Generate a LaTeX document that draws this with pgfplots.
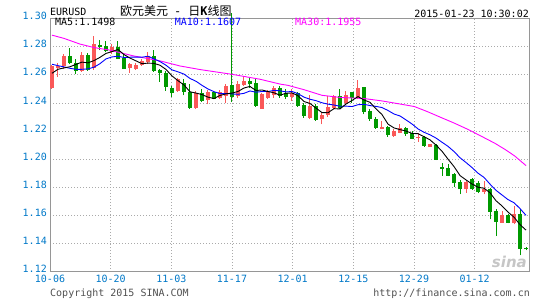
\documentclass[border=0pt]{standalone}
\usepackage{fontspec}
\setmainfont{DejaVu Sans Mono}
\newfontfamily\cjk{Noto Sans CJK SC}
\newfontfamily\sinafont{DejaVu Sans}
\usepackage{pgfplots}
\usepackage{pgfplotstable}
\pgfplotsset{compat=1.18}
\definecolor{kred}{RGB}{250,88,88}
\definecolor{kgreen}{RGB}{0,153,0}
\definecolor{axblue}{RGB}{0,120,200}
\definecolor{gridgray}{RGB}{170,170,170}
\definecolor{framegray}{RGB}{150,150,150}
\definecolor{ma30}{RGB}{255,0,255}

% red = close above open
\pgfplotstableread{
i o h l c
0 1.2507 1.2669 1.2502 1.2660
1 1.2648 1.2688 1.2585 1.2660
2 1.2660 1.2752 1.2641 1.2736
5 1.2629 1.2760 1.2621 1.2740
7 1.2652 1.2879 1.2636 1.2819
10 1.2760 1.2819 1.2748 1.2802
13 1.2652 1.2688 1.2617 1.2676
14 1.2641 1.2688 1.2636 1.2669
15 1.2669 1.2712 1.2664 1.2700
16 1.2693 1.2764 1.2676 1.2736
21 1.2486 1.2581 1.2479 1.2569
24 1.2367 1.2486 1.2360 1.2469
26 1.2422 1.2493 1.2391 1.2479
28 1.2438 1.2493 1.2426 1.2479
29 1.2450 1.2533 1.2398 1.2522
31 1.2450 1.2557 1.2438 1.2533
32 1.2527 1.2593 1.2522 1.2557
35 1.2360 1.2474 1.2360 1.2462
36 1.2438 1.2493 1.2431 1.2479
37 1.2455 1.2522 1.2438 1.2510
40 1.2446 1.2498 1.2415 1.2474
43 1.2296 1.2455 1.2285 1.2379
45 1.2285 1.2332 1.2249 1.2315
46 1.2313 1.2451 1.2303 1.2375
47 1.2368 1.2455 1.2360 1.2451
49 1.2398 1.2486 1.2384 1.2455
51 1.2439 1.2564 1.2427 1.2510
55 1.2218 1.2273 1.2213 1.2232
57 1.2166 1.2213 1.2161 1.2201
58 1.2190 1.2254 1.2185 1.2225
61 1.2153 1.2190 1.2123 1.2161
63 1.2090 1.2110 1.2088 1.2107
69 1.1786 1.1846 1.1763 1.1839
72 1.1767 1.1846 1.1751 1.1791
75 1.1549 1.1632 1.1549 1.1601
77 1.1544 1.1668 1.1537 1.1609
}\redK

% green = close below open
\pgfplotstableread{
i o h l c
3 1.2736 1.2795 1.2676 1.2688
4 1.2688 1.2712 1.2605 1.2629
6 1.2740 1.2755 1.2629 1.2636
8 1.2812 1.2850 1.2776 1.2800
9 1.2807 1.2843 1.2760 1.2771
11 1.2800 1.2843 1.2712 1.2712
12 1.2717 1.2748 1.2641 1.2641
17 1.2736 1.2776 1.2621 1.2629
18 1.2636 1.2645 1.2552 1.2612
19 1.2617 1.2629 1.2486 1.2517
20 1.2510 1.2522 1.2443 1.2469
22 1.2545 1.2569 1.2455 1.2479
23 1.2479 1.2533 1.2360 1.2367
25 1.2469 1.2498 1.2407 1.2414
27 1.2479 1.2486 1.2426 1.2431
30 1.2529 1.3041 1.2407 1.2443
33 1.2557 1.2581 1.2510 1.2533
34 1.2545 1.2581 1.2374 1.2379
38 1.2510 1.2522 1.2438 1.2450
39 1.2469 1.2498 1.2426 1.2445
41 1.2474 1.2479 1.2372 1.2379
42 1.2384 1.2403 1.2296 1.2308
44 1.2379 1.2391 1.2273 1.2280
48 1.2451 1.2498 1.2360 1.2368
50 1.2479 1.2482 1.2403 1.2439
52 1.2515 1.2517 1.2320 1.2337
53 1.2344 1.2356 1.2273 1.2285
54 1.2289 1.2301 1.2218 1.2225
56 1.2232 1.2237 1.2161 1.2171
59 1.2225 1.2232 1.2166 1.2178
60 1.2185 1.2201 1.2142 1.2147
62 1.2161 1.2166 1.2090 1.2095
64 1.2100 1.2107 1.1993 1.1995
65 1.1945 1.1971 1.1881 1.1929
66 1.1941 1.1964 1.1879 1.1881
67 1.1893 1.1905 1.1805 1.1829
68 1.1839 1.1853 1.1751 1.1786
70 1.1858 1.1869 1.1782 1.1786
71 1.1829 1.1846 1.1758 1.1767
73 1.1786 1.1798 1.1573 1.1627
74 1.1632 1.1644 1.1454 1.1554
76 1.1606 1.1608 1.1544 1.1549
78 1.1609 1.1644 1.1317 1.1364
79 1.1367 1.1378 1.1352 1.1359
}\greenK

\pgfplotstableread{
i v
0 1.2612
1 1.2640
2 1.2650
3 1.2658
4 1.2675
5 1.2691
6 1.2686
7 1.2702
8 1.2725
9 1.2753
10 1.2766
11 1.2781
12 1.2745
13 1.2720
14 1.2700
15 1.2680
16 1.2684
17 1.2682
18 1.2669
19 1.2639
20 1.2593
21 1.2559
22 1.2529
23 1.2480
24 1.2471
25 1.2460
26 1.2442
27 1.2432
28 1.2454
29 1.2465
30 1.2471
31 1.2482
32 1.2507
33 1.2518
34 1.2489
35 1.2493
36 1.2482
37 1.2473
38 1.2456
39 1.2469
40 1.2472
41 1.2452
42 1.2411
43 1.2397
44 1.2364
45 1.2332
46 1.2331
47 1.2360
48 1.2358
49 1.2393
50 1.2418
51 1.2446
52 1.2422
53 1.2405
54 1.2359
55 1.2318
56 1.2250
57 1.2223
58 1.2211
59 1.2201
60 1.2184
61 1.2182
62 1.2161
63 1.2138
64 1.2101
65 1.2057
66 1.2001
67 1.1948
68 1.1884
69 1.1853
70 1.1824
71 1.1801
72 1.1794
73 1.1762
74 1.1705
75 1.1668
76 1.1624
77 1.1588
78 1.1535
79 1.1496
}\maFive

\pgfplotstableread{
i v
0 1.2676
1 1.2666
2 1.2657
3 1.2647
4 1.2640
5 1.2640
6 1.2643
7 1.2655
8 1.2680
9 1.2714
10 1.2728
11 1.2733
12 1.2724
13 1.2726
14 1.2727
15 1.2726
16 1.2733
17 1.2714
18 1.2695
19 1.2669
20 1.2636
21 1.2622
22 1.2606
23 1.2575
24 1.2555
25 1.2526
26 1.2500
27 1.2481
28 1.2467
29 1.2468
30 1.2465
31 1.2462
32 1.2469
33 1.2486
34 1.2477
35 1.2482
36 1.2482
37 1.2490
38 1.2487
39 1.2479
40 1.2482
41 1.2467
42 1.2442
43 1.2427
44 1.2417
45 1.2402
46 1.2392
47 1.2386
48 1.2377
49 1.2378
50 1.2375
51 1.2388
52 1.2391
53 1.2382
54 1.2376
55 1.2368
56 1.2347
57 1.2322
58 1.2308
59 1.2280
60 1.2251
61 1.2216
62 1.2192
63 1.2174
64 1.2151
65 1.2121
66 1.2092
67 1.2055
68 1.2011
69 1.1977
70 1.1941
71 1.1901
72 1.1871
73 1.1823
74 1.1779
75 1.1746
76 1.1713
77 1.1691
78 1.1649
79 1.1601
}\maTen

\pgfplotstableread{
i v
0 1.2883
2 1.2860
4.7 1.2819
7 1.2795
9.7 1.2776
13.5 1.2736
18 1.2700
21.3 1.2664
24.7 1.2638
29.9 1.2605
34.7 1.2569
38 1.2535
39.3 1.2526
42 1.2495
45 1.2455
48 1.2440
52 1.2432
55 1.2415
58 1.2393
60.4 1.2375
62.5 1.2340
64.9 1.2296
67 1.2258
69.3 1.2213
71.5 1.2165
73.8 1.2114
75.5 1.2070
77.1 1.2024
79 1.1955
}\maThirty

\begin{document}
\begin{tikzpicture}
\path[use as bounding box] (-50pt,-28.3pt) rectangle (495pt,271.7pt);
\begin{axis}[
  at={(0pt,0pt)}, anchor=south west,
  scale only axis, width=479pt, height=253pt,
  xmin=-0.33, xmax=79.5, ymin=1.12, ymax=1.30,
  clip=false,
  axis line style={draw=framegray, line width=1pt},
  major tick length=0pt,
  grid=major,
  major grid style={draw=gridgray, line width=0.9pt, dash pattern=on 1pt off 2pt},
  xtick={-0.33,9.78,19.89,30.0,40.11,50.22,60.33,70.44},
  xticklabels={10-06,10-20,11-03,11-17,12-01,12-15,12-29,01-12},
  ytick={1.12,1.14,1.16,1.18,1.20,1.22,1.24,1.26,1.28,1.30},
  yticklabels={1.12,1.14,1.16,1.18,1.20,1.22,1.24,1.26,1.28,1.30},
  x tick label style={text=axblue, anchor=base, inner sep=0pt, yshift=-11pt},
  y tick label style={text=axblue, anchor=base east, inner sep=0pt, xshift=-3pt, yshift=-1pt},
  candle/.style={draw=none, mark=none, forget plot,
    error bars/y dir=plus, error bars/y explicit, error bars/error mark=none},
]
% wicks
\addplot[candle, error bars/error bar style={draw=kred, solid, line width=1pt}]
  table[x=i, y=l, y error plus expr=\thisrow{h}-\thisrow{l}] {\redK};
\addplot[candle, error bars/error bar style={draw=kgreen, solid, line width=1pt}]
  table[x=i, y=l, y error plus expr=\thisrow{h}-\thisrow{l}] {\greenK};
% bodies
\addplot[candle, error bars/error bar style={draw=kred, solid, line width=4pt}]
  table[x=i, y=o, y error plus expr=\thisrow{c}-\thisrow{o}] {\redK};
\addplot[candle, error bars/error bar style={draw=kgreen, solid, line width=4pt}]
  table[x=i, y=c, y error plus expr=\thisrow{o}-\thisrow{c}] {\greenK};
% moving averages
\addplot[ma30, line width=0.9pt, mark=none] table[x=i, y=v] {\maThirty};
\addplot[blue, line width=0.9pt, mark=none] table[x=i, y=v] {\maTen};
\addplot[black, line width=0.9pt, mark=none] table[x=i, y=v] {\maFive};
\end{axis}
\node[anchor=base west, inner sep=0pt] at (0pt,256pt) {EURUSD};
\node[anchor=base west, inner sep=0pt] at (70pt,256.3pt) {\fontsize{12}{12}\selectfont{\cjk 欧元美元}\hspace{6pt}-\hspace{7pt}{\cjk 日}\textbf{K}{\cjk 线图}};
\node[anchor=base east, inner sep=0pt] at (479pt,254.5pt) {2015-01-23 10:30:02};
\node[anchor=base west, inner sep=0pt] at (5pt,245.7pt) {MA5:1.1498};
\node[anchor=base west, inner sep=0pt, text=blue] at (124.7pt,245.7pt) {MA10:1.1607};
\node[anchor=base west, inner sep=0pt, text=ma30] at (245pt,245.7pt) {MA30:1.1955};
\node[anchor=base east, inner sep=0pt, text=gray!45] at (477pt,4pt) {\sinafont\bfseries\itshape\fontsize{15}{15}\selectfont sina};
\node[anchor=base west, inner sep=0pt, text={rgb,255:red,80;green,80;blue,80}] at (0pt,-24.3pt) {Copyright 2015 SINA.COM};
\node[anchor=base east, inner sep=0pt, text={rgb,255:red,80;green,80;blue,80}] at (480pt,-24.3pt) {http://finance.sina.com.cn};
\end{tikzpicture}
\end{document}
